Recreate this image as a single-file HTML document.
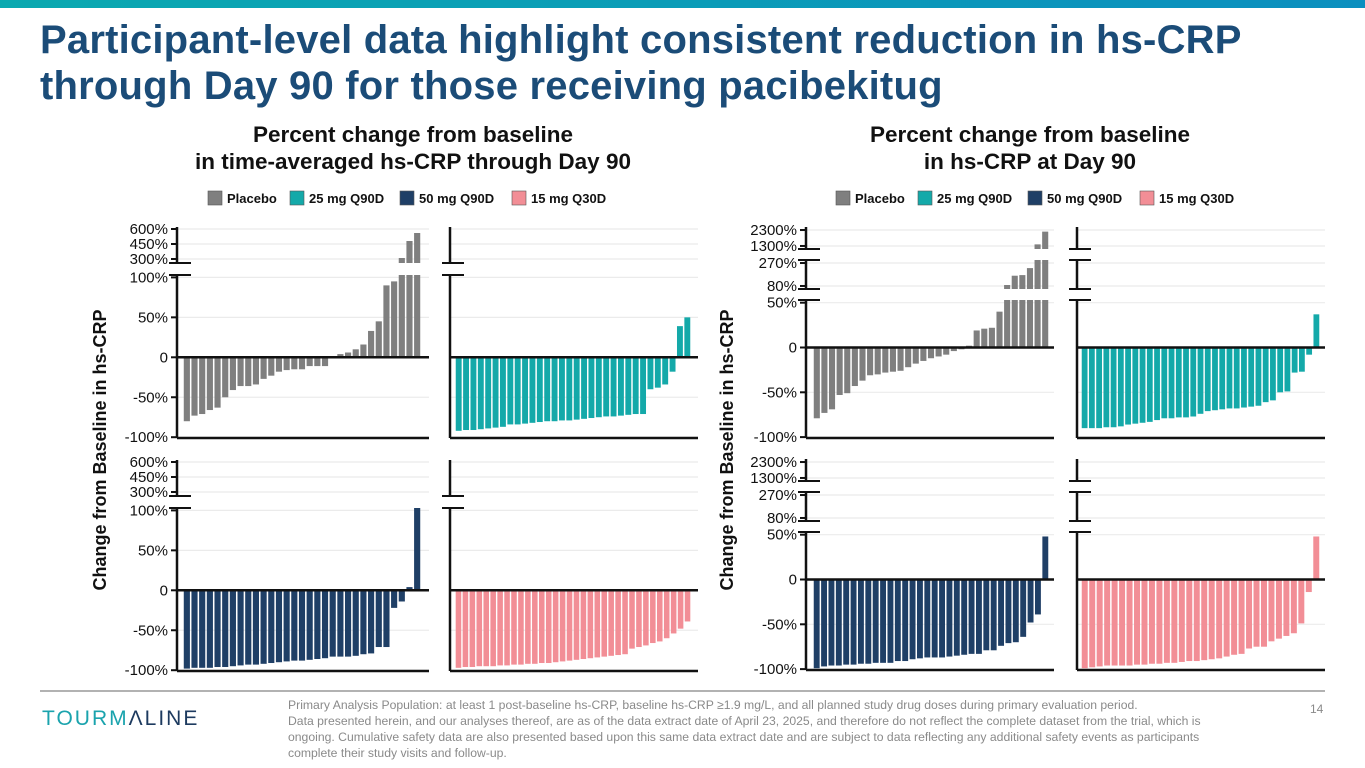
<!DOCTYPE html>
<html><head><meta charset="utf-8"><style>
body{margin:0;width:1365px;height:768px;overflow:hidden;background:#fff;font-family:"Liberation Sans",sans-serif;position:relative}
.band{position:absolute;left:0;top:0;width:1365px;height:8px;background:linear-gradient(90deg,#0aa9b0,#0b8fbf)}
h1{position:absolute;left:40px;top:17px;margin:0;font-size:40px;line-height:46px;color:#1b4c78;font-weight:bold;letter-spacing:0.2px}
.foot{position:absolute;left:288px;top:697px;width:945px;font-size:12.2px;line-height:16px;color:#8a8a8a}
.logo{position:absolute;left:42px;top:707px;font-size:21px;letter-spacing:2px;color:#1aa3ad}
.pg{position:absolute;left:1310px;top:702px;font-size:12px;color:#8a8a8a}
</style></head><body>
<div class="band"></div>
<h1>Participant-level data highlight consistent reduction in hs-CRP<br>through Day 90 for those receiving pacibekitug</h1>
<svg id="chart" width="1365" height="768" style="position:absolute;left:0;top:0"></svg>
<div class="logo">TOURM<span style="color:#1d3a5f">ΛLINE</span></div>
<div class="foot">Primary Analysis Population: at least 1 post-baseline hs-CRP, baseline hs-CRP ≥1.9 mg/L, and all planned study drug doses during primary evaluation period.<br>Data presented herein, and our analyses thereof, are as of the data extract date of April 23, 2025, and therefore do not reflect the complete dataset from the trial, which is ongoing. Cumulative safety data are also presented based upon this same data extract date and are subject to data reflecting any additional safety events as participants complete their study visits and follow-up.</div>
<div class="pg">14</div>
<script>
const legendLabels=["Placebo","25 mg Q90D","50 mg Q90D","15 mg Q30D"];
const colors=["#7f7f7f","#14a9a9","#1f3f66","#f28e96"];
// Left chart: time-averaged
const taPlacebo=[-80,-73,-71,-66,-63,-50,-41,-36,-36,-34,-27,-23,-18,-16,-15,-15,-11,-11,-11,0,4,6,10,16,33,45,90,95,310,480,560];
const ta25=[-92,-91,-91,-90,-89,-88,-87,-84,-84,-83,-82,-81,-80,-80,-79,-79,-78,-77,-76,-75,-74,-74,-73,-72,-71,-71,-40,-38,-34,-18,39,50];
const ta50=[-98,-97,-97,-97,-96,-96,-95,-94,-93,-93,-92,-91,-90,-89,-88,-88,-87,-86,-85,-83,-83,-83,-82,-80,-79,-71,-71,-22,-14,4,103];
const ta15=[-97,-96,-96,-95,-95,-95,-94,-94,-93,-93,-92,-92,-91,-91,-90,-89,-88,-87,-86,-85,-84,-83,-82,-81,-80,-73,-71,-69,-66,-64,-60,-54,-48,-39];
// Right chart: Day 90
const d90Placebo=[-79,-73,-69,-53,-51,-43,-37,-31,-30,-28,-27,-26,-22,-18,-15,-12,-10,-8,-4,-2,2,19,21,22,40,88,165,170,228,1400,2200];
const d9025=[-90,-90,-90,-89,-89,-88,-86,-85,-84,-83,-81,-79,-79,-78,-78,-77,-74,-71,-70,-69,-68,-68,-67,-66,-65,-61,-59,-50,-49,-28,-27,-8,37];
const d9050=[-99,-97,-96,-96,-95,-95,-94,-94,-93,-93,-93,-91,-91,-89,-88,-87,-87,-87,-86,-85,-84,-83,-83,-79,-79,-74,-71,-70,-64,-48,-39,48];
const d9015=[-99,-98,-97,-96,-96,-96,-96,-95,-95,-94,-94,-93,-93,-92,-91,-91,-90,-89,-88,-86,-84,-83,-77,-75,-75,-69,-66,-63,-60,-49,-14,48];
const leftTicksMain=[-100,-50,0,50,100];
const leftTicksUpper=[300,450,600];
const rightTicksMain=[-100,-50,0,50];
const rightTicksMid=[80,270];
const rightTicksUpper=[1300,2300];
function fmt(v){return v===0?"0":v+"%";}

const NS="http://www.w3.org/2000/svg";
const svg=document.getElementById('chart');
function el(tag,attrs,parent){const e=document.createElementNS(NS,tag);for(const k in attrs)e.setAttribute(k,attrs[k]);(parent||svg).appendChild(e);return e;}
function txt(x,y,s,attrs){const t=el('text',Object.assign({x:x,y:y,'font-family':'Liberation Sans, sans-serif'},attrs));t.textContent=s;return t;}

function segs(kind,dy){
  if(kind==='L') return [
    {lo:-101,hi:103,yB:438+dy,yT:275+dy,ticks:leftTicksMain,main:true},
    {lo:260,hi:620,yB:263+dy,yT:227+dy,ticks:leftTicksUpper,top:true}];
  return [
    {lo:-101,hi:53,yB:438+dy,yT:300+dy,ticks:rightTicksMain,main:true},
    {lo:55,hi:295,yB:289+dy,yT:260+dy,ticks:rightTicksMid},
    {lo:1110,hi:2490,yB:249+dy,yT:227+dy,ticks:rightTicksUpper,top:true}];
}
function Y(s,v){return s.yB-(v-s.lo)/(s.hi-s.lo)*(s.yB-s.yT);}

function panel(name,axisX,endX,bx0,bx1,segList,values,color,showLabels){
  const g=el('g',{});
  
  
  segList.forEach(s=>{
    s.ticks.forEach(t=>{
      const y=Y(s,t);
      const gl=el('line',{x1:axisX,x2:endX,y1:y,y2:y,stroke:'#ebebeb','stroke-width':1.2},g);
      
      
      if(showLabels){
        el('line',{x1:axisX-6,x2:axisX,y1:y,y2:y,stroke:'#111','stroke-width':2},g);
        const l=txt(axisX-9,y+5,fmt(t),{'text-anchor':'end','font-size':15,fill:'#111'});
        g.appendChild(l);
        
        
      }
    });
  });
  const n=values.length,pitch=(bx1-bx0)/n,w=pitch*0.8;
  values.forEach((v,i)=>{
    const x=bx0+i*pitch+(pitch-w)/2;
    segList.forEach(s=>{
      let y1,y2;
      if(s.main){const z=Y(s,0);const t=Y(s,Math.max(s.lo,Math.min(v,s.hi)));y1=Math.min(z,t);y2=Math.max(z,t);}
      else{if(v<=s.lo)return;y1=Y(s,Math.min(v,s.hi));y2=s.yB;}
      if(y2-y1<0.3)return;
      const r=el('rect',{x:x,y:y1,width:w,height:y2-y1,fill:color},g);
      
      
    });
  });
  segList.forEach(s=>{
    el('line',{x1:axisX,x2:axisX,y1:s.yT,y2:s.yB,stroke:'#111','stroke-width':2.5},g);
    el('line',{x1:axisX-8,x2:axisX+14,y1:s.yT,y2:s.yT,stroke:s.top?'none':'#111','stroke-width':2},g);
    if(!s.main) el('line',{x1:axisX-8,x2:axisX+14,y1:s.yB,y2:s.yB,stroke:'#111','stroke-width':2},g);
    if(s.main){
      el('line',{x1:axisX,x2:endX,y1:Y(s,0),y2:Y(s,0),stroke:'#111','stroke-width':2.5},g);
      el('line',{x1:axisX,x2:endX,y1:s.yB,y2:s.yB,stroke:'#111','stroke-width':2.5},g);
    }
  });
}

function header(cx,l1,l2,lx){
  const t1=txt(cx,142,l1,{'text-anchor':'middle','font-size':22.5,'font-weight':'bold',fill:'#111'});
  
  const t2=txt(cx,169,l2,{'text-anchor':'middle','font-size':22.5,'font-weight':'bold',fill:'#111'});
  
  legendLabels.forEach((lab,i)=>{
    const g=el('g',{});
    
    
    el('rect',{x:lx[i],y:191,width:14,height:14,fill:colors[i],stroke:'#555','stroke-width':0.6},g);
    const t=txt(lx[i]+19,203,lab,{'font-size':13,'font-weight':'bold',fill:'#111'});g.appendChild(t);
  });
}
function ytitle(x,y){
  const t=txt(0,0,'Change from Baseline in hs-CRP',{'text-anchor':'middle','font-size':18,'font-weight':'bold',fill:'#111',transform:`translate(${x},${y}) rotate(-90)`});
  
}

header(413,'Percent change from baseline','in time-averaged hs-CRP through Day 90',[208,290,400,512]);
header(1030,'Percent change from baseline','in hs-CRP at Day 90',[836,918,1028,1140]);
ytitle(106,450);ytitle(733,450);

panel('placebo-ta-panel',177,429,183,421,segs('L',0),taPlacebo,colors[0],true);
panel('q90d25-ta-panel',450,698,455,691,segs('L',0),ta25,colors[1],false);
panel('q90d50-ta-panel',177,429,183,421,segs('L',233),ta50,colors[2],true);
panel('q30d15-ta-panel',450,698,455,691,segs('L',233),ta15,colors[3],false);

panel('placebo-d90-panel',806,1054,813,1049,segs('R',0),d90Placebo,colors[0],true);
panel('q90d25-d90-panel',1077,1325,1081,1320,segs('R',0),d9025,colors[1],false);
panel('q90d50-d90-panel',806,1054,813,1049,segs('R',232),d9050,colors[2],true);
panel('q30d15-d90-panel',1077,1325,1081,1320,segs('R',232),d9015,colors[3],false);

const fl=el('line',{x1:40,x2:1325,y1:691,y2:691,stroke:'#999','stroke-width':1.5});


</script>
</body></html>
